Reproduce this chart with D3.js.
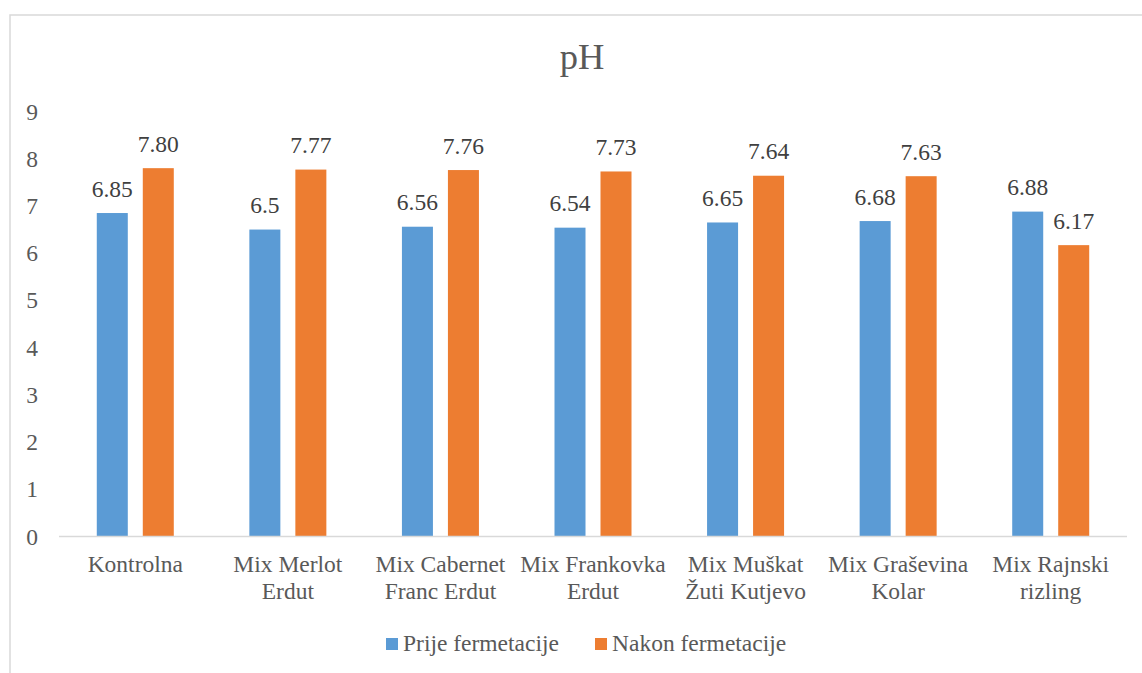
<!DOCTYPE html>
<html><head><meta charset="utf-8">
<script src="https://cdn.jsdelivr.net/npm/d3@7/dist/d3.min.js"></script>
<style>body{margin:0;background:#fff}svg{display:block}</style>
</head><body>
<svg id="c" width="1142" height="673"></svg>
<script>
const categories = [
  ["Kontrolna"],
  ["Mix Merlot", "Erdut"],
  ["Mix Cabernet", "Franc Erdut"],
  ["Mix Frankovka", "Erdut"],
  ["Mix Muškat", "Žuti Kutjevo"],
  ["Mix Graševina", "Kolar"],
  ["Mix Rajnski", "rizling"]
];
const seriesNames = ["Prije fermetacije", "Nakon fermetacije"];
const prijeValues = [6.85, 6.5, 6.56, 6.54, 6.65, 6.68, 6.88];
const nakonValues = [7.80, 7.77, 7.76, 7.73, 7.64, 7.63, 6.17];
const prijeLabels = ["6.85", "6.5", "6.56", "6.54", "6.65", "6.68", "6.88"];
const nakonLabels = ["7.80", "7.77", "7.76", "7.73", "7.64", "7.63", "6.17"];
const yTicks = [0,1,2,3,4,5,6,7,8,9];
const colors = ["#5B9BD5", "#ED7D31"];

const svg = d3.select("#c");
const font = "'Liberation Serif','Times New Roman',serif";

svg.append("rect").attr("x",10).attr("y",15).attr("width",1140).attr("height",670)
  .attr("fill","#fff").attr("stroke","#d9d9d9").attr("stroke-width",1.5);

svg.append("text").attr("x",582).attr("y",69).attr("text-anchor","middle")
  .attr("font-family",font).attr("font-size",36.5).attr("fill","#595959").text("pH");

const catKeys = categories.map(d => d.join(" "));
const x0 = d3.scaleBand().domain(catKeys).range([59,1127]).padding(0);
const step = x0.bandwidth();
const x1 = d3.scaleBand().domain(seriesNames).range([step/2-38.5, step/2+38.5]).paddingInner(0.326);
const y = d3.scaleLinear().domain([0,9]).range([536.5,111.5]);

// y tick labels
svg.append("g").selectAll("text").data(yTicks).join("text")
  .attr("x",38).attr("y",d=>y(d)+8).attr("text-anchor","end")
  .attr("font-family",font).attr("font-size",23.5).attr("fill","#595959").text(d=>d);

const data = catKeys.map((k,i)=>({k, vals:[
  {s:seriesNames[0], v:prijeValues[i], l:prijeLabels[i], c:colors[0]},
  {s:seriesNames[1], v:nakonValues[i], l:nakonLabels[i], c:colors[1]}
]}));

const g = svg.append("g").selectAll("g").data(data).join("g")
  .attr("transform", d=>`translate(${x0(d.k)},0)`);
g.selectAll("rect").data(d=>d.vals).join("rect")
  .attr("x",d=>x1(d.s)).attr("width",x1.bandwidth())
  .attr("y",d=>y(d.v)).attr("height",d=>y(0)-y(d.v)).attr("fill",d=>d.c);
g.selectAll("text").data(d=>d.vals).join("text")
  .attr("x",d=>x1(d.s)+x1.bandwidth()/2).attr("y",d=>y(d.v)-16.5)
  .attr("text-anchor","middle").attr("font-family",font).attr("font-size",23.5)
  .attr("fill","#404040").text(d=>d.l);

// x axis line
svg.append("line").attr("x1",59).attr("x2",1127).attr("y1",y(0)).attr("y2",y(0))
  .attr("stroke","#d9d9d9").attr("stroke-width",1.5);

// category labels
const cl = svg.append("g").selectAll("text").data(categories).join("text")
  .attr("text-anchor","middle").attr("font-family",font).attr("font-size",23.5).attr("fill","#595959");
cl.each(function(d,i){
  const t = d3.select(this);
  d.forEach((line,j)=>{
    t.append("tspan").attr("x",x0(catKeys[i])+step/2).attr("y",571.5+j*27.5).text(line);
  });
});

// legend
const legendX = [386, 595];
const lg = svg.append("g").selectAll("g").data(seriesNames).join("g")
  .attr("transform",(d,i)=>`translate(${legendX[i]},0)`);
lg.append("rect").attr("x",0).attr("y",638).attr("width",12).attr("height",12).attr("fill",(d,i)=>colors[i]);
lg.append("text").attr("x",17).attr("y",651).attr("font-family",font).attr("font-size",23.5)
  .attr("fill","#595959").text(d=>d);
</script>
</body></html>
